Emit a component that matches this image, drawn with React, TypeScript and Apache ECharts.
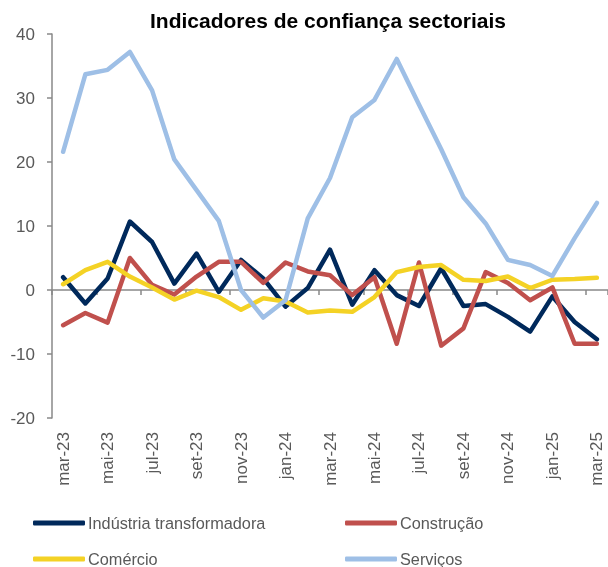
import React, { useEffect, useRef } from "react";
import * as echarts from "echarts";

const months = [
  "mar-23", "abr-23", "mai-23", "jun-23", "jul-23", "ago-23", "set-23", "out-23", "nov-23", "dez-23",
  "jan-24", "fev-24", "mar-24", "abr-24", "mai-24", "jun-24", "jul-24", "ago-24", "set-24", "out-24",
  "nov-24", "dez-24", "jan-25", "fev-25", "mar-25",
];

const industria = [2.0, -2.1, 1.8, 10.7, 7.5, 1.0, 5.7, -0.3, 4.7, 1.8, -2.6, 0.3, 6.3, -2.3, 3.1, -0.8, -2.5, 3.4, -2.5, -2.2, -4.2, -6.5, -1.0, -5.0, -7.7];
const construcao = [-5.5, -3.6, -5.1, 5.0, 0.8, -0.7, 2.1, 4.4, 4.4, 1.1, 4.3, 2.9, 2.3, -0.8, 2.0, -8.4, 4.3, -8.7, -6.0, 2.8, 1.1, -1.6, 0.4, -8.4, -8.4];
const comercio = [0.9, 3.1, 4.4, 2.1, 0.4, -1.5, -0.1, -1.1, -3.1, -1.3, -1.8, -3.5, -3.2, -3.4, -1.1, 2.8, 3.6, 3.9, 1.6, 1.4, 2.1, 0.3, 1.6, 1.7, 1.9];
const servicos = [21.6, 33.7, 34.4, 37.2, 31.2, 20.4, 15.6, 10.8, 0.0, -4.3, -1.6, 11.2, 17.5, 27.0, 29.7, 36.1, 29.0, 22.0, 14.5, 10.4, 4.7, 3.9, 2.2, 8.1, 13.6];

const seriesNames = ["Indústria transformadora", "Construção", "Comércio", "Serviços"];
const seriesColors = ["#00295B", "#C0504D", "#F4D225", "#9EBFE6"];
const seriesData = [industria, construcao, comercio, servicos];

const FONT = "'Liberation Sans', Arial, sans-serif";
const TEXT = "#595959";
const AXIS = "#898989";

export default function App() {
  const ref = useRef<HTMLDivElement>(null);
  useEffect(() => {
    if (!ref.current) return;
    const chart = echarts.init(ref.current, undefined, { renderer: "svg" });
    const legendPos = [
      { left: 33, top: 514 },
      { left: 345, top: 514 },
      { left: 33, top: 550 },
      { left: 345, top: 550 },
    ];
    chart.setOption({
      animation: false,
      textStyle: { fontFamily: FONT },
      title: {
        text: "Indicadores de confiança sectoriais",
        left: 150,
        top: 10,
        padding: 0,
        textStyle: { fontSize: 21, fontWeight: "bold", color: "#000", fontFamily: FONT },
      },
      legend: seriesNames.map((n, i) => ({
        data: [n],
        left: legendPos[i].left,
        top: legendPos[i].top,
        padding: 0,
        itemWidth: 52,
        itemHeight: 5,
        icon: "roundRect",
        selectedMode: false,
        textStyle: { fontSize: 16.3, color: TEXT, fontFamily: FONT, lineHeight: 18, padding: [0, 0, 0, -2] },
      })),
      grid: { left: 52, right: 0, top: 34, bottom: 149, containLabel: false },
      xAxis: [
        {
          type: "category",
          data: months,
          boundaryGap: true,
          position: "bottom",
          axisLine: { show: false, onZero: false },
          axisTick: { show: false },
          axisLabel: { interval: 1, rotate: 90, margin: 14, fontSize: 17, color: TEXT, fontFamily: FONT },
          splitLine: { show: false },
        },
        {
          type: "category",
          data: months,
          boundaryGap: true,
          position: "top",
          axisLine: { show: true, onZero: true, lineStyle: { color: AXIS, width: 1.5 } },
          axisTick: { show: true, interval: 1, inside: true, length: 5, alignWithLabel: false, lineStyle: { color: AXIS, width: 1.5 } },
          axisLabel: { show: false },
          splitLine: { show: false },
        },
      ],
      yAxis: {
        type: "value",
        min: -20,
        max: 40,
        interval: 10,
        axisLine: { show: true, lineStyle: { color: AXIS, width: 1.5 } },
        axisTick: { show: true, length: 5, lineStyle: { color: AXIS, width: 1.5 } },
        axisLabel: { margin: 17, fontSize: 17, color: TEXT, fontFamily: FONT },
        splitLine: { show: false },
      },
      series: seriesNames.map((n, i) => ({
        name: n,
        type: "line",
        data: seriesData[i],
        xAxisIndex: 0,
        symbol: "none",
        showSymbol: false,
        color: seriesColors[i],
        lineStyle: { width: 4.5, color: seriesColors[i], cap: "round", join: "round" },
        z: 2 + i,
      })),
    });
    return () => chart.dispose();
  }, []);
  return <div ref={ref} style={{ position: "fixed", left: 0, top: 0, width: 608, height: 567 }} />;
}
